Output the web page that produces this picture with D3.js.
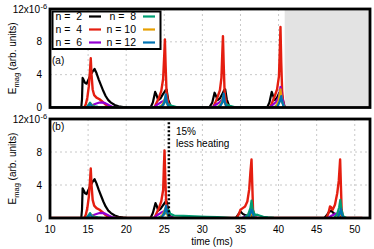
<!DOCTYPE html>
<html><head><meta charset="utf-8">
<script src="https://cdn.jsdelivr.net/npm/d3@7"></script>
<style>
html,body{margin:0;padding:0;background:#fff;}
svg{display:block;font-family:"Liberation Sans",Arial,Helvetica,sans-serif;}
</style></head>
<body>
<svg id="chart" width="374" height="249"></svg>
<script>
// ---------- data (time in ms, E_mag in units of 1e-6) ----------
const xTicks = [10, 15, 20, 25, 30, 35, 40, 45, 50];
const yTicks = [0, 4, 8, 12];
const legendLabels = ["n =  2", "n =  4", "n =  6", "n =  8", "n = 10", "n = 12"];
const seriesColors = ["#000000", "#e51e10", "#9400d3", "#009e73", "#e69f00", "#0072b2"];

// first burst (identical in both runs)
const firstN2 = [[10,0],[14.1,0],[14.2,1.0],[14.28,3.6],[14.4,3.4],[14.6,3.0],[14.8,2.9],[15.0,3.3],[15.3,3.9],[15.6,4.4],[15.85,4.7],[16.1,4.2],[16.4,3.4],[16.7,2.7],[17.0,2.0],[17.3,1.4],[17.65,0.9],[18.0,0.6],[18.5,0.3],[19.0,0.15],[19.6,0.05],[20.2,0]];
const firstN4 = [[10,0],[14.5,0],[14.7,0.4],[14.9,1.2],[15.1,2.6],[15.25,4.5],[15.35,6.0],[15.45,4.0],[15.6,2.2],[15.8,1.5],[16.1,1.2],[16.5,1.0],[16.9,0.7],[17.3,0.35],[17.7,0.1],[18.2,0]];
const firstN6 = [[10,0],[14.8,0],[15.2,0.15],[15.6,0.3],[16.0,0.45],[16.5,0.6],[16.9,0.62],[17.3,0.5],[17.7,0.3],[18.1,0.12],[18.6,0.03],[19.2,0]];
const firstN8 = [[10,0],[14.8,0],[15.05,0.3],[15.25,0.6],[15.45,0.35],[15.8,0.15],[16.3,0.08],[17.0,0]];
const firstN10 = [[10,0],[14.9,0],[15.2,0.2],[15.4,0.35],[15.6,0.15],[16.0,0]];
const firstN12 = [[10,0],[14.9,0],[15.1,0.25],[15.3,0.4],[15.5,0.2],[15.8,0]];

// run (a): later bursts
const topN2 = [[23.2,0],[23.5,0.6],[23.8,1.9],[23.95,1.6],[24.2,0.9],[24.5,1.1],[24.8,1.6],[25.1,2.0],[25.3,2.2],[25.5,1.0],[25.8,0.2],[26.2,0],
  [30.9,0],[31.3,0.6],[31.6,1.8],[31.75,1.5],[32.0,0.9],[32.3,1.1],[32.6,1.6],[32.85,2.1],[33.0,2.2],[33.2,1.0],[33.5,0.2],[33.9,0],
  [38.5,0],[38.8,0.6],[39.1,1.9],[39.25,1.5],[39.5,0.9],[39.8,1.2],[40.1,1.8],[40.35,2.0],[40.55,1.0],[40.8,0]];
const topN4 = [[23.7,0],[24.0,0.6],[24.3,1.2],[24.6,2.0],[24.85,3.5],[25.0,6.5],[25.08,8.3],[25.18,5.0],[25.3,1.8],[25.5,0.6],[25.8,0],
  [31.4,0],[31.7,0.6],[32.0,1.3],[32.3,2.1],[32.5,3.6],[32.62,6.8],[32.7,8.7],[32.8,5.2],[32.92,1.8],[33.1,0.6],[33.4,0],
  [38.9,0],[39.2,0.7],[39.5,1.4],[39.8,2.2],[40.05,3.8],[40.17,7.2],[40.25,9.8],[40.35,5.5],[40.47,2.0],[40.6,0.7],[40.8,0]];
const topN6 = [[23.6,0],[24.0,0.3],[24.5,0.6],[24.9,0.8],[25.2,1.0],[25.4,0.5],[25.8,0.1],[26.3,0],
  [31.3,0],[31.7,0.3],[32.2,0.6],[32.55,0.9],[32.8,1.2],[33.0,0.5],[33.4,0.1],[33.9,0],
  [38.8,0],[39.2,0.3],[39.7,0.7],[40.05,1.3],[40.25,2.5],[40.45,1.2],[40.8,0]];
const topN8 = [[24.2,0],[24.8,0.3],[25.2,0.8],[25.5,0.4],[26.0,0.2],[26.6,0.05],[27.0,0],
  [31.9,0],[32.4,0.3],[32.8,0.9],[33.1,0.4],[33.6,0.2],[34.2,0.05],[34.6,0],
  [39.4,0],[39.9,0.4],[40.3,1.0],[40.55,0.5],[40.8,0]];
const topN10 = [[24.5,0],[24.9,0.6],[25.15,1.3],[25.35,0.5],[25.6,0],
  [32.1,0],[32.5,0.6],[32.75,1.4],[32.95,0.5],[33.2,0],
  [39.6,0],[40.0,0.8],[40.25,2.2],[40.45,0.8],[40.7,0]];
const topN12 = [[24.6,0],[25.0,0.6],[25.2,1.6],[25.35,0.6],[25.6,0],
  [32.2,0],[32.6,0.6],[32.8,1.7],[32.95,0.6],[33.2,0],
  [39.8,0],[40.1,0.6],[40.35,1.4],[40.5,0.6],[40.7,0]];

// run (b): later bursts
const botN2 = [[23.2,0],[23.5,0.6],[23.85,1.8],[24.0,1.5],[24.2,0.9],[24.5,1.1],[24.8,1.5],[25.1,1.9],[25.3,2.0],[25.5,1.0],[25.8,0.2],[26.2,0],
  [34.4,0],[34.7,0.4],[35.0,0.8],[35.3,0.5],[35.7,0.3],[36.2,0.4],[36.5,0.3],[36.8,0],
  [46.0,0],[46.3,0.3],[46.6,0.7],[46.9,0.9],[47.2,0.6],[47.6,0.4],[48.0,0.4],[48.3,0],[51,0]];
const botN4 = [[23.7,0],[24.0,0.6],[24.3,1.2],[24.6,2.0],[24.85,3.4],[24.95,6.2],[25.03,8.2],[25.13,5.0],[25.25,1.8],[25.45,0.6],[25.8,0],
  [34.5,0],[34.8,0.5],[35.0,1.0],[35.3,1.2],[35.6,1.4],[35.9,2.0],[36.15,3.5],[36.3,5.5],[36.45,7.1],[36.55,4.0],[36.65,1.0],[36.9,0],
  [46.3,0],[46.55,0.6],[46.75,1.4],[46.9,1.3],[47.1,1.0],[47.4,1.6],[47.7,3.0],[47.9,4.5],[48.08,7.1],[48.18,4.0],[48.28,1.0],[48.45,0],[51,0]];
const botN6 = [[23.6,0],[24.0,0.3],[24.5,0.6],[24.9,0.8],[25.2,0.9],[25.4,0.5],[25.8,0.1],[26.3,0],
  [35.2,0],[35.7,0.2],[36.2,0.5],[36.5,0.6],[36.8,0.2],[37.2,0],
  [46.5,0],[47.0,0.3],[47.5,0.5],[48.0,0.6],[48.3,0.2],[48.6,0],[51,0]];
const botN8 = [[24.2,0],[24.8,0.3],[25.3,0.7],[25.55,1.0],[25.8,0.5],[26.3,0.3],[27.5,0.25],[29.0,0.2],[30.5,0.15],[32.0,0.1],[33.0,0.05],[33.8,0],
  [35.5,0],[36.0,0.4],[36.3,1.2],[36.45,2.1],[36.6,1.0],[36.9,0.35],[37.2,0.4],[37.5,0.3],[38.0,0.15],[38.6,0.08],[39.4,0.02],[40.0,0],
  [47.3,0],[47.7,0.5],[47.95,1.3],[48.1,2.2],[48.25,1.0],[48.5,0.2],[48.9,0],[51,0]];
const botN10 = [[24.5,0],[24.9,0.6],[25.15,1.2],[25.35,0.5],[25.6,0],
  [35.9,0],[36.3,0.3],[36.5,0.6],[36.7,0.2],[37.0,0],
  [47.6,0],[48.0,0.4],[48.15,0.6],[48.3,0.2],[48.5,0],[51,0]];
const botN12 = [[24.6,0],[25.0,0.6],[25.25,1.5],[25.4,0.6],[25.7,0],
  [35.9,0],[36.2,0.3],[36.45,1.0],[36.6,0.6],[36.8,0],
  [47.7,0],[48.0,0.5],[48.15,1.1],[48.3,0.4],[48.5,0],[51,0]];

const shadeStart = 40.8;   // run (a) ends here
const markerTime = 25.6;   // "15% less heating"

// ---------- layout ----------
const svg = d3.select("#chart");
const x = d3.scaleLinear().domain([10, 52]).range([50, 370]);
const panels = [
  {id:"a", y: d3.scaleLinear().domain([0,12]).range([107.5, 9]),
   data:[firstN2.concat(topN2), firstN4.concat(topN4), firstN6.concat(topN6), firstN8.concat(topN8), firstN10.concat(topN10), firstN12.concat(topN12)]},
  {id:"b", y: d3.scaleLinear().domain([0,12]).range([218, 119]),
   data:[firstN2.concat(botN2), firstN4.concat(botN4), firstN6.concat(botN6), firstN8.concat(botN8), firstN10.concat(botN10), firstN12.concat(botN12)]}
];

panels.forEach((p, pi) => {
  const y = p.y;
  const g = svg.append("g");
  const x0 = x.range()[0], x1 = x.range()[1], yT = y.range()[1], yB = y.range()[0];
  const clipId = "clip" + pi;
  svg.append("clipPath").attr("id", clipId).append("rect")
    .attr("x", x0).attr("y", yT).attr("width", x1 - x0).attr("height", yB - yT);

  // grid
  g.selectAll(".vg").data(xTicks.filter(t => t > 10)).enter().append("line")
    .attr("x1", d => x(d)).attr("x2", d => x(d)).attr("y1", yT).attr("y2", yB)
    .attr("stroke", "#c8c8c8").attr("stroke-width", 1).attr("stroke-dasharray", "2,3");
  g.selectAll(".hg").data(yTicks.filter(t => t > 0 && t < 12)).enter().append("line")
    .attr("x1", x0).attr("x2", x1).attr("y1", d => y(d)).attr("y2", d => y(d))
    .attr("stroke", "#c8c8c8").attr("stroke-width", 1).attr("stroke-dasharray", "2,3");

  if (p.id === "a") {
    g.append("rect").attr("x", x(shadeStart)).attr("y", yT)
      .attr("width", x1 - x(shadeStart)).attr("height", yB - yT).attr("fill", "#e3e3e3");
  }

  // lines
  const line = d3.line().x(d => x(d[0])).y(d => y(d[1]));
  const lg = g.append("g").attr("clip-path", `url(#${clipId})`);
  p.data.forEach((s, i) => {
    lg.append("path").attr("d", line(s)).attr("fill", "none")
      .attr("stroke", seriesColors[i]).attr("stroke-width", i === 1 ? 2.4 : 2.2)
      .attr("stroke-linejoin", "round");
  });

  if (p.id === "b") {
    g.append("line").attr("x1", x(markerTime)).attr("x2", x(markerTime))
      .attr("y1", y(11.6)).attr("y2", yB)
      .attr("stroke", "#000").attr("stroke-width", 2.5).attr("stroke-dasharray", "2,2");
    const t = g.append("text").attr("font-size", 10).attr("fill", "#000");
    t.append("tspan").attr("x", 176).attr("y", 135).text("15%");
    t.append("tspan").attr("x", 176).attr("y", 146.5).text("less heating");
  }

  // frame
  g.append("rect").attr("x", x0).attr("y", yT).attr("width", x1 - x0).attr("height", yB - yT)
    .attr("fill", "none").attr("stroke", "#000").attr("stroke-width", 2.8);

  // y tick labels
  yTicks.forEach(t => {
    const txt = g.append("text").attr("font-size", 10).attr("y", y(t) + 3.6);
    if (t === 12) {
      txt.attr("x", 40).attr("text-anchor", "end").text("12x10");
      g.append("text").attr("font-size", 7.5).attr("x", 40.5).attr("y", y(t) - 0.5).text("-6");
    } else {
      txt.attr("x", 42).attr("text-anchor", "end").text(String(t));
    }
  });

  // y label
  const yl = g.append("text").attr("transform", `translate(16,${(yT + yB) / 2}) rotate(-90)`)
    .attr("text-anchor", "middle").attr("font-size", 10);
  yl.append("tspan").text("E");
  yl.append("tspan").attr("font-size", 7.5).attr("dy", 2.5).text("mag");
  yl.append("tspan").attr("dy", -2.5).text(" (arb. units)");

  // panel label
  g.append("text").attr("x", 52).attr("y", p.id === "a" ? 64 : 130).attr("font-size", 10)
    .text(p.id === "a" ? "(a)" : "(b)");
});

// x axis tick labels (bottom panel only)
const yB2 = panels[1].y.range()[0];
svg.selectAll(".xt").data(xTicks).enter().append("text")
  .attr("x", d => x(d)).attr("y", yB2 + 15).attr("text-anchor", "middle").attr("font-size", 10)
  .text(d => d);
svg.append("text").attr("x", 212).attr("y", 245).attr("text-anchor", "middle").attr("font-size", 10)
  .text("time (ms)");

// legend
const lgd = svg.append("g");
lgd.append("rect").attr("x", 52.5).attr("y", 11.5).attr("width", 108).attr("height", 37.5)
  .attr("fill", "#fff").attr("stroke", "#000").attr("stroke-width", 2);
legendLabels.forEach((lab, i) => {
  const col = Math.floor(i / 3), row = i % 3;
  const tx = col === 0 ? 82 : 136;
  const ly = 16.5 + row * 13;
  lgd.append("text").attr("x", tx).attr("y", ly + 3.8).attr("text-anchor", "end")
    .attr("font-size", 10.5).style("white-space", "pre").text(lab);
  lgd.append("line").attr("x1", tx + 7).attr("x2", tx + 19).attr("y1", ly).attr("y2", ly)
    .attr("stroke", seriesColors[i]).attr("stroke-width", 2.2);
});
</script>
</body></html>
